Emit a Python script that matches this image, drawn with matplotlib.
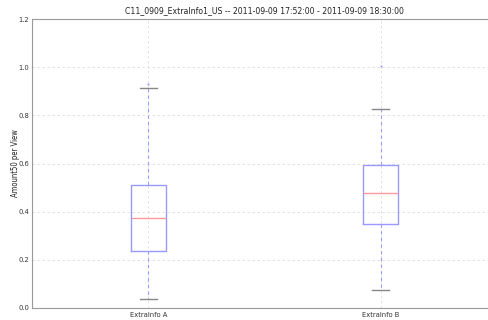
import matplotlib

matplotlib.use("Agg")

import matplotlib.pyplot as plt

labels = ["ExtraInfo A", "ExtraInfo B"]
q1 = [0.237, 0.349]
medians = [0.374, 0.478]
q3 = [0.509, 0.594]
whisker_low = [0.037, 0.073]
whisker_high = [0.912, 0.826]
fliers = [[0.93], [1.005]]

title = "C11_0909_ExtraInfo1_US -- 2011-09-09 17:52:00 - 2011-09-09 18:30:00"

plt.rcParams["font.family"] = ["DejaVu Sans"]
plt.rcParams["font.stretch"] = "condensed"

stats = []
for i in range(len(labels)):
    stats.append({
        "label": labels[i],
        "q1": q1[i],
        "med": medians[i],
        "q3": q3[i],
        "whislo": whisker_low[i],
        "whishi": whisker_high[i],
        "fliers": fliers[i],
    })

fig = plt.figure(figsize=(4.89, 3.2), dpi=100)
ax = fig.add_axes([0.0654, 0.0375, 0.951, 0.903])

ax.bxp(
    stats,
    widths=0.15,
    boxprops=dict(color="#9999ff", linewidth=1.0),
    medianprops=dict(color="#ff9999", linewidth=1.0),
    whiskerprops=dict(color="#9999ff", linestyle=(0, (3, 3)), linewidth=0.8),
    capprops=dict(color="#888888", linewidth=1.0),
    flierprops=dict(marker="+", markeredgecolor="#9999ff", markersize=2,
                    markeredgewidth=0.8),
)

ax.set_xlim(0.5, 2.5)
ax.set_ylim(0.0, 1.2)
ax.set_yticks([0.0, 0.2, 0.4, 0.6, 0.8, 1.0, 1.2])

ax.grid(True, color="#dddddd", linestyle=(0, (3, 3)), linewidth=0.6)
ax.set_axisbelow(True)

for side in ["top", "bottom", "left", "right"]:
    ax.spines[side].set_color("#999999")

ax.tick_params(axis="both", length=0, labelsize=5.4, colors="#333333", pad=2)
ax.tick_params(axis="x", pad=3)

ax.set_ylabel("Amount50 per View", fontsize=5.5, color="#222222", labelpad=-1)
ax.set_title(title, fontsize=6.2, color="#222222", pad=4)

plt.savefig("out.png", dpi=100)
